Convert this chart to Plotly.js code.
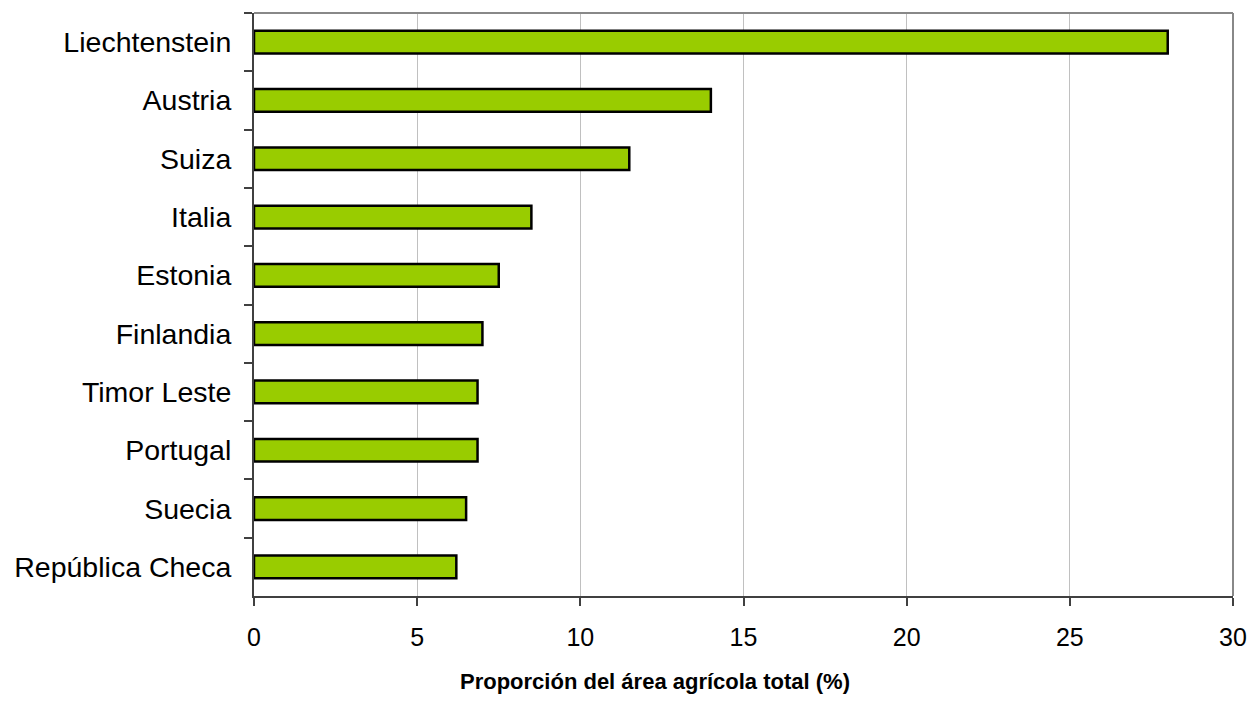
<!DOCTYPE html>
<html>
<head>
<meta charset="utf-8">
<script src="https://cdn.plot.ly/plotly-3.0.1.min.js"></script>
<style>html,body{margin:0;padding:0;background:#fff;}#chart{width:1251px;height:723px;}</style>
</head>
<body>
<div id="chart"></div>
<script>
const countries = ["Liechtenstein","Austria","Suiza","Italia","Estonia","Finlandia","Timor Leste","Portugal","Suecia","República Checa"];
const values = [28.0, 14.0, 11.5, 8.5, 7.5, 7.0, 6.85, 6.85, 6.5, 6.2];
const xTicks = [0, 5, 10, 15, 20, 25, 30];
const xTitle = "Proporción del área agrícola total (%)";

const font = "Liberation Sans, Arial, sans-serif";

const trace = {
  type: "bar",
  orientation: "h",
  y: countries,
  x: values,
  width: 0.39,
  marker: {color: "#99CC00", line: {color: "#000000", width: 2.5}},
  hoverinfo: "x+y"
};

const layout = {
  width: 1251, height: 723,
  margin: {l: 254, r: 18, t: 13, b: 127},
  paper_bgcolor: "#ffffff", plot_bgcolor: "#ffffff",
  showlegend: false,
  font: {family: font, color: "#000000"},
  xaxis: {
    range: [0, 30],
    tickvals: xTicks,
    ticktext: xTicks.map(String),
    showgrid: true, gridcolor: "#c0c0c0", gridwidth: 1,
    zeroline: false,
    showline: true, linecolor: "#404040", linewidth: 2,
    ticks: "outside", ticklen: 8, tickcolor: "#404040", tickwidth: 1.5,
    tickfont: {family: font, size: 25, color: "#000000"},
    ticklabelstandoff: 10
  },
  yaxis: {
    autorange: "reversed",
    type: "category",
    showgrid: false,
    zeroline: false,
    showline: true, linecolor: "#404040", linewidth: 2,
    ticks: "outside", tickson: "boundaries", ticklen: 8, tickcolor: "#404040", tickwidth: 1.5,
    tickfont: {family: font, size: 28.5, color: "#000000"},
    ticklabelstandoff: 15
  },
  shapes: [
    {type: "line", xref: "paper", yref: "paper", x0: 0, x1: 1, y0: 1, y1: 1, line: {color: "#888888", width: 2}},
    {type: "line", xref: "paper", yref: "paper", x0: 1, x1: 1, y0: 0, y1: 1, line: {color: "#888888", width: 2}}
  ],
  annotations: [{
    text: "<b>" + xTitle + "</b>",
    xref: "paper", yref: "paper",
    x: 0.41, y: -0.147, xanchor: "center", yanchor: "middle",
    showarrow: false,
    font: {family: font, size: 22, color: "#000000"}
  }]
};

Plotly.newPlot("chart", [trace], layout, {displayModeBar: false});
</script>
</body>
</html>
